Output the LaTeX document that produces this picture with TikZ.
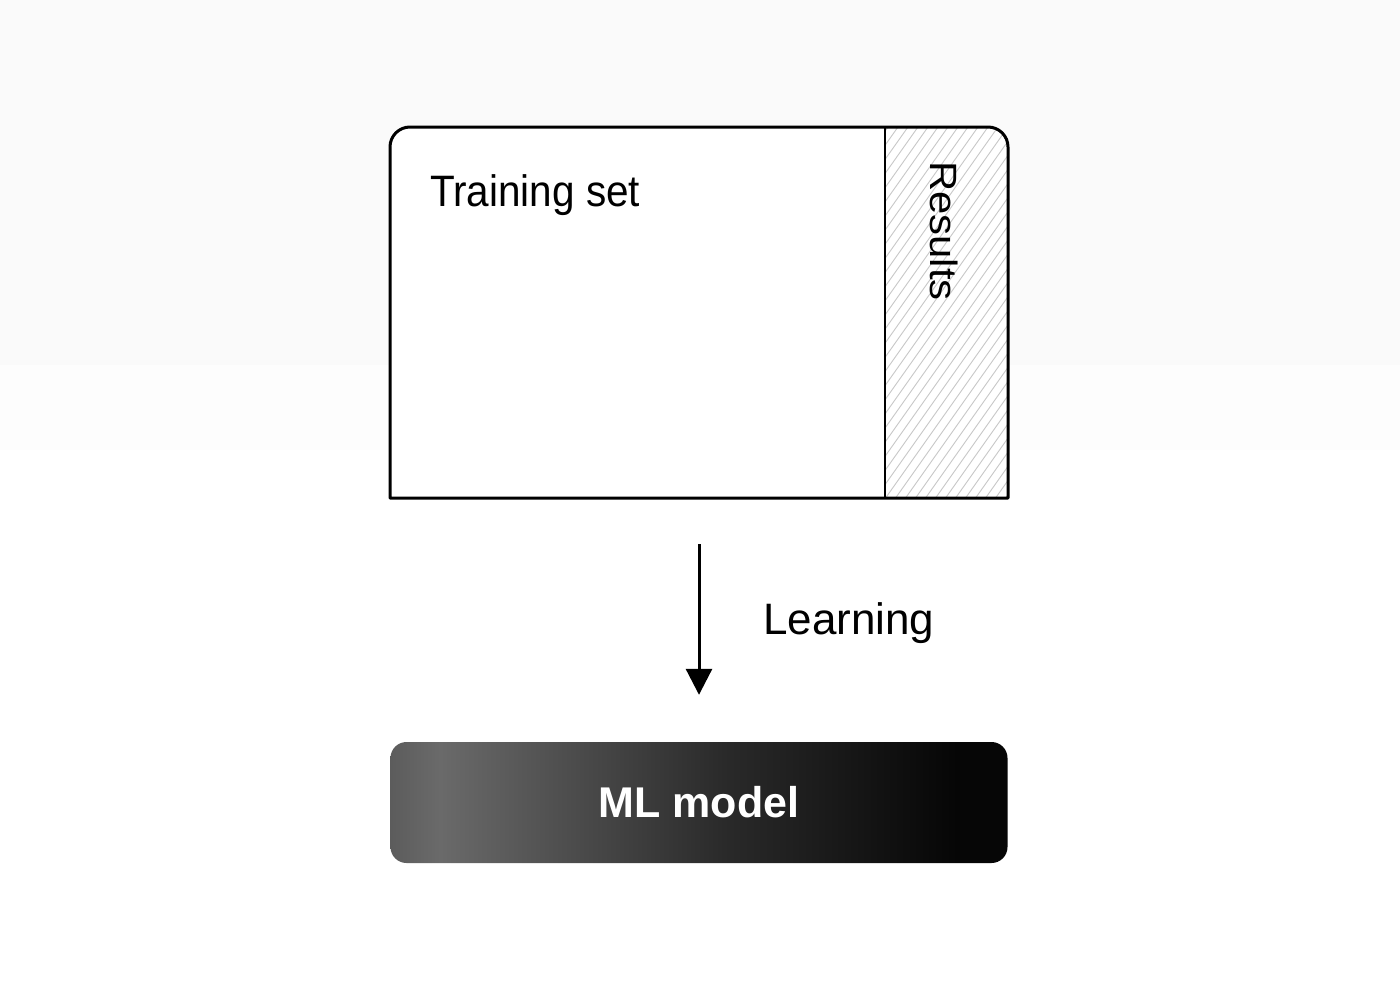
\documentclass[tikz,border=0pt]{standalone}
\usepackage{fontspec}
\setmainfont{Liberation Sans}
\usetikzlibrary{arrows.meta}
\definecolor{bgtop}{HTML}{FAFAFA}
\definecolor{bgmid}{HTML}{FDFDFD}
\definecolor{hatchgray}{HTML}{C8C8C8}
\definecolor{mlA}{HTML}{5C5C5C}
\definecolor{mlB}{HTML}{6A6A6A}
\definecolor{mlC}{HTML}{2A2A2A}
\definecolor{mlD}{HTML}{060606}
\pgfdeclarehorizontalshading{mlshade}{100bp}{color(0bp)=(mlA); color(25bp)=(mlA); color(29bp)=(mlB); color(52bp)=(mlC); color(71bp)=(mlD); color(100bp)=(mlD)}
\tikzset{
  outline/.style={line width=3pt, line join=round},
  label/.style={font=\fontsize{44}{50}\selectfont, inner sep=0pt},
  modelbox/.style={shading=mlshade, rounded corners=16pt, minimum width=617pt, minimum height=121pt, inner sep=0pt,
                   text=white, font=\bfseries\fontsize{43}{50}\selectfont},
  flow/.style={-{Triangle[width=26pt,length=26pt]}, line width=3pt}
}
\begin{document}
\begin{tikzpicture}[x=1pt,y=-1pt]
\useasboundingbox (0,0) rectangle (1400,991);
% background
\fill[white] (0,0) rectangle (1400,991);
\fill[bgtop] (0,0) rectangle (1400,365);
\fill[bgmid] (0,365) rectangle (1400,450);
% data box (invisible node for connections)
\node[minimum width=618pt, minimum height=371pt, inner sep=0pt] (data) at (699,312.5) {};
% white fill of box
\fill[white] (390,498) -- (390,147) arc[start angle=180,end angle=270,radius=20] -- (988,127) arc[start angle=-90,end angle=0,radius=20] -- (1008,498) -- cycle;
% hatched results area
\begin{scope}
  \clip (885,498) -- (885,127) -- (988,127) arc[start angle=-90,end angle=0,radius=20] -- (1008,498) -- cycle;
  \foreach \x in {600,610,...,1100} {
    \draw[hatchgray, line width=0.9pt] (\x,520) -- ({\x+290},110);
  }
\end{scope}
% outline
\draw[outline] (390,498) -- (390,147) arc[start angle=180,end angle=270,radius=20] -- (988,127) arc[start angle=-90,end angle=0,radius=20] -- (1008,498) -- cycle;
\draw[line width=2.5pt] (885,127) -- (885,498);
% labels
\node[label, anchor=base west, xscale=0.92] (train) at (430,206) {Training set};
\node[font=\fontsize{38}{42}\selectfont, inner sep=0pt, rotate=-90, xscale=1.1] (results) at (944,231) {Results};
% model
\node[modelbox] (model) at (699,802.5) {ML model};
% arrow
\draw[flow, shorten <=46pt, shorten >=47pt] (data.south) -- (model.north);
\node[label, anchor=base west] (learn) at (763,634) {Learning};
\end{tikzpicture}
\end{document}
